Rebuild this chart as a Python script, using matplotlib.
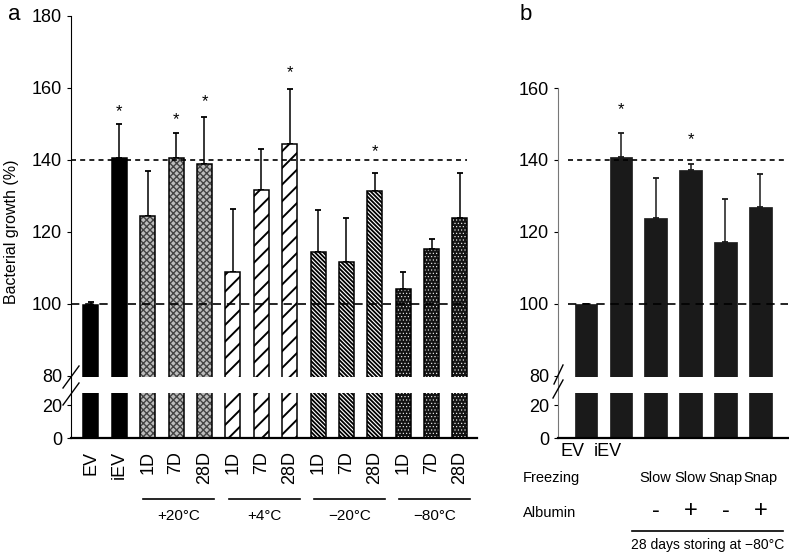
import numpy as np
import matplotlib
matplotlib.use("Agg")
import matplotlib.pyplot as plt
from matplotlib.lines import Line2D
from matplotlib import transforms

plt.rcParams['font.family'] = ['Liberation Sans', 'DejaVu Sans']
plt.rcParams['hatch.linewidth'] = 1.2

# panel a data
labels_a = ['EV', 'iEV', '1D', '7D', '28D', '1D', '7D', '28D', '1D', '7D', '28D', '1D', '7D', '28D']
values_a = [99.7, 140.5, 124.5, 140.5, 139.0, 108.9, 131.7, 144.4, 114.5, 111.6, 131.5, 104.2, 115.3, 123.8]
errtop_a = [100.5, 150.0, 137.0, 147.5, 152.0, 126.4, 143.0, 159.7, 126.0, 124.0, 136.5, 109.0, 118.0, 136.5]
groups_a = ['+20°C', '+4°C', '\u221220°C', '\u221280°C']
star_idx_a = [1, 3, 4, 7, 10]
star_y_a = [153.3, 151.1, 156.1, 164.2, 142.2]

# panel b data
labels_b = ['EV', 'iEV']
values_b = [100.0, 140.8, 123.9, 137.2, 117.2, 126.9]
errtop_b = [100.0, 147.5, 135.0, 138.9, 129.2, 136.1]
freezing = ['', '', 'Slow', 'Slow', 'Snap', 'Snap']
albumin = ['', '', '-', '+', '-', '+']
star_idx_b = [1, 3]
star_y_b = [153.9, 145.6]

W, H = 789, 553
# broken axis: piecewise linear scale (pixel-like units)
brk_x = [0, 27.3, 79.8, 1000]
brk_y = [0, 45.0, 61.6, 62.3 + 3.6 * 920]


def fwd(v):
    return np.interp(v, brk_x, brk_y)


def inv(y):
    return np.interp(y, brk_y, brk_x)


fig = plt.figure(figsize=(W / 100, H / 100), dpi=100)
ax_a = fig.add_axes([70.5 / W, (H - 438.3) / H, 406.5 / W, 422.3 / H])
ax_b = fig.add_axes([557.5 / W, (H - 438.3) / H, 230.5 / W, 350.3 / H])


def style(ax, ytop, yticks):
    ax.set_yscale('function', functions=(fwd, inv))
    ax.set_ylim(0, ytop)
    ax.set_yticks(yticks)
    ax.set_yticklabels([str(t) for t in yticks])
    ax.spines['top'].set_visible(False)
    ax.spines['right'].set_visible(False)
    ax.spines['bottom'].set_linewidth(1.6)
    ax.tick_params(axis='y', direction='out', length=3, labelsize=13, pad=3)
    ax.tick_params(axis='x', length=0, labelsize=13)
    ax.axhspan(27.3, 79.8, color='white', zorder=2.4, lw=0)


hatch_styles = [
    dict(fc='black', hc='black', hatch=None, hl=1.0),
    dict(fc='black', hc='black', hatch=None, hl=1.0),
    dict(fc='#bdbdbd', hc='#444444', hatch='xxxxx', hl=1.0),
    dict(fc='white', hc='black', hatch='//', hl=1.4),
    dict(fc='white', hc='black', hatch='\\' * 8, hl=1.3),
    dict(fc='#141414', hc='white', hatch='.....', hl=0.4),
]
bar_style_a = [0, 1, 2, 2, 2, 3, 3, 3, 4, 4, 4, 5, 5, 5]

# panel a
xa = np.arange(len(values_a))
style(ax_a, 180, [0, 20, 80, 100, 120, 140, 160, 180])
ax_a.set_xlim(-0.72, 13.6)
for i, (x, v) in enumerate(zip(xa, values_a)):
    s = hatch_styles[bar_style_a[i]]
    with plt.rc_context({'hatch.linewidth': s['hl']}):
        ax_a.bar(x, v, width=0.53, color=s['fc'], edgecolor=s['hc'], hatch=s['hatch'], lw=0, zorder=2)
    ax_a.bar(x, v, width=0.53, fill=False, edgecolor='black', lw=1.1, zorder=2.1)
err_a = np.array(errtop_a) - np.array(values_a)
ax_a.errorbar(xa, values_a, yerr=[np.zeros(len(xa)), err_a], fmt='none', ecolor='black',
              elinewidth=1.1, capsize=2.3, capthick=1.3, zorder=1.5)
ax_a.hlines(140, -0.72, 13.26, colors='black', linestyles=(0, (3, 2.5)), lw=1.2, zorder=3)
ax_a.hlines(100, -0.72, 13.26, colors='black', linestyles=(0, (5, 3.5)), lw=1.2, zorder=3)
for i, y in zip(star_idx_a, star_y_a):
    ax_a.text(xa[i], y, '*', ha='center', va='center', fontsize=12)
ax_a.set_xticks(xa)
ax_a.set_xticklabels(labels_a, rotation=90, va='top')
ax_a.tick_params(axis='x', pad=9)

tr_a = transforms.blended_transform_factory(ax_a.transData, fig.transFigure)
for g, name in enumerate(groups_a):
    x0 = 2 + 3 * g - 0.15
    x1 = 2 + 3 * g + 2 + 0.35
    ax_a.add_line(Line2D([x0, x1], [1 - 499 / H] * 2, transform=tr_a, color='black', lw=1.2, clip_on=False))
    ax_a.text((x0 + x1) / 2, 1 - 516 / H, name, transform=tr_a, ha='center', va='center', fontsize=11)

fig.text(12 / W, 1 - 232 / H, 'Bacterial growth (%)', rotation=90, ha='center', va='center', fontsize=11.5)
fig.text(8 / W, 1 - 14 / H, 'a', ha='left', va='center', fontsize=16)
fig.text(520 / W, 1 - 14 / H, 'b', ha='left', va='center', fontsize=16)

# panel b
xb = np.arange(len(values_b))
style(ax_b, 160, [0, 20, 80, 100, 120, 140, 160])
ax_b.spines['left'].set_color('#777777')
ax_b.set_xlim(-0.81, 5.79)
ax_b.bar(xb, values_b, width=0.64, color='#1a1a1a', edgecolor='#1a1a1a', lw=0.5, zorder=2)
err_b = np.array(errtop_b) - np.array(values_b)
ax_b.errorbar(xb, values_b, yerr=[np.zeros(len(xb)), err_b], fmt='none', ecolor='#1a1a1a',
              elinewidth=1.1, capsize=2.3, capthick=1.3, zorder=1.5)
ax_b.hlines(140, -0.5, 5.79, colors='black', linestyles=(0, (3, 2.5)), lw=1.2, zorder=3, clip_on=False)
ax_b.hlines(100, -0.5, 5.79, colors='black', linestyles=(0, (5, 3.5)), lw=1.2, zorder=3, clip_on=False)
for i, y in zip(star_idx_b, star_y_b):
    ax_b.text(xb[i], y, '*', ha='center', va='center', fontsize=12)
ax_b.set_xticks([])

tr_b = transforms.blended_transform_factory(ax_b.transData, fig.transFigure)
for x, lab in zip(xb, labels_b):
    ax_b.text(x - 0.37, 1 - 452 / H, lab, transform=tr_b, ha='center', va='center', fontsize=13)
fig.text(523 / W, 1 - 478 / H, 'Freezing', ha='left', va='center', fontsize=10.5)
fig.text(523 / W, 1 - 513 / H, 'Albumin', ha='left', va='center', fontsize=10.5)
for x, f, a in zip(xb, freezing, albumin):
    ax_b.text(x, 1 - 478 / H, f, transform=tr_b, ha='center', va='center', fontsize=10.5)
    ax_b.text(x, 1 - 511 / H, a, transform=tr_b, ha='center', va='center', fontsize=17)
ax_b.add_line(Line2D([1.31, 5.66], [1 - 531 / H] * 2, transform=tr_b, color='black', lw=1.2, clip_on=False))
ax_b.text(3.48, 1 - 545 / H, '28 days storing at \u221280°C', transform=tr_b, ha='center', va='center', fontsize=10)

# break marks
for (x0, y0, x1, y1) in [(63, 388, 79, 366), (63, 405, 79, 383), (554, 384, 563, 365), (553, 398, 563, 380)]:
    fig.add_artist(Line2D([x0 / W, x1 / W], [1 - y0 / H, 1 - y1 / H], color='black', lw=1.0))

fig.savefig('out.png', dpi=100)
